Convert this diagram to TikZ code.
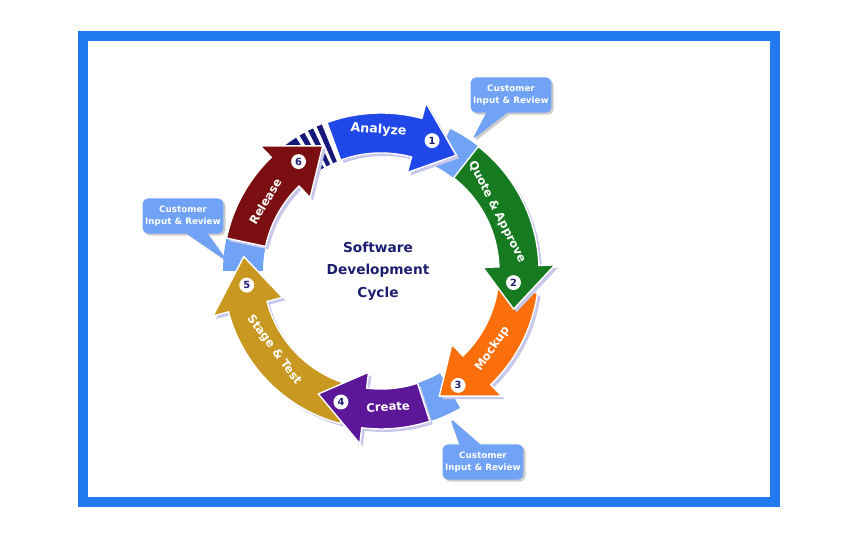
\documentclass[tikz,border=0pt]{standalone}
\usepackage{fontspec}
\setmainfont{DejaVu Sans}
\usetikzlibrary{shapes.callouts,shadows}

\definecolor{framebl}{RGB}{33,122,240}
\definecolor{analyzebl}{RGB}{32,72,232}
\definecolor{quotegr}{RGB}{22,122,32}
\definecolor{mockupor}{RGB}{250,110,12}
\definecolor{createpu}{RGB}{92,22,152}
\definecolor{stagego}{RGB}{200,152,32}
\definecolor{releasere}{RGB}{122,14,16}
\definecolor{stripenv}{RGB}{22,24,122}
\definecolor{gapbl}{RGB}{112,162,246}
\definecolor{titlenv}{RGB}{30,30,112}
\definecolor{shadelv}{RGB}{200,200,236}

% ring piece from angle #1 clockwise to #2
\newcommand{\ringpiece}[3]{%
  \fill[#3] (#1:158) arc[start angle=#1, end angle=#2, radius=158]
    -- (#2:118) arc[start angle=#2, end angle=#1, radius=118] -- cycle;
}
% curved arrow: start, head base, tip, colour
\newcommand{\cyclearrow}[4]{%
  \fill[shadelv, shift={(3,-3)}] (#1:158) arc[start angle=#1, end angle=#2, radius=158]
    -- (#2:174) -- (#3:138) -- (#2:102) -- (#2:118)
    arc[start angle=#2, end angle=#1, radius=118] -- cycle;
  \fill[#4, draw=white, line width=0.8pt] (#1:158) arc[start angle=#1, end angle=#2, radius=158]
    -- (#2:174) -- (#3:138) -- (#2:102) -- (#2:118)
    arc[start angle=#2, end angle=#1, radius=118] -- cycle;
}

\begin{document}
\begin{tikzpicture}[x=0.02cm, y=0.02cm,
    lbl/.style={text=white, font=\fontsize{6.6}{7}\selectfont\bfseries, inner sep=0pt},
    num/.style={circle, fill=white, text=titlenv, inner sep=0pt, minimum size=8.5pt,
      font=\fontsize{5.6}{6}\selectfont\bfseries},
    note/.style={rectangle callout, fill=gapbl, rounded corners=3pt, text=white,
      align=center, minimum width=46pt, minimum height=20pt, inner sep=1pt,
      callout pointer width=12pt, font=\fontsize{5}{6.8}\selectfont\bfseries,
      drop shadow={shadow xshift=1.2pt, shadow yshift=-1.2pt, fill=black, opacity=0.2}}]
  \useasboundingbox (0,0) rectangle (850,550);
  \draw[framebl, line width=5.67pt] (83,514) rectangle (775,48);

  % callouts
  \coordinate (p1) at (472,410);
  \coordinate (p2) at (228,288);
  \coordinate (p3) at (450,132);
  \node[note, callout absolute pointer={(p1)}] (c1) at (511,455) {Customer\\Input \& Review};
  \node[note, callout absolute pointer={(p2)}] (c2) at (183,334) {Customer\\Input \& Review};
  \node[note, callout absolute pointer={(p3)}] (c3) at (483,88) {Customer\\Input \& Review};

  \begin{scope}[shift={(381,279)}]
    % light blue gaps
    \ringpiece{64}{50}{gapbl}
    \ringpiece{-60}{-76}{gapbl}
    \ringpiece{180}{164}{gapbl}
    % stripes
    \ringpiece{132}{122.5}{stripenv}
    \ringpiece{121}{119}{stripenv}
    \ringpiece{117.5}{115.5}{stripenv}
    \ringpiece{114}{112}{stripenv}

    \cyclearrow{-105}{-165}{-186}{stagego}
    \cyclearrow{-8}{-46}{-65}{mockupor}
    \cyclearrow{110}{75}{57}{analyzebl}
    \cyclearrow{52}{2}{-16}{quotegr}
    \cyclearrow{-72}{-97}{-117}{createpu}
    \cyclearrow{168}{134}{115}{releasere}

    \node[lbl, font=\fontsize{7.2}{8}\selectfont\bfseries, rotate=-4] (tAnalyze) at (91:141) {Analyze};
    \node[lbl, rotate=-63] (tQuote) at (27:130) {Quote \& Approve};
    \node[lbl, rotate=55] (tMockup) at (-35:136) {Mockup};
    \node[lbl, rotate=3] (tCreate) at (-87:136) {Create};
    \node[lbl, rotate=-53.6] (tStage) at (-143.6:133) {Stage \& Test};
    \node[lbl, rotate=59] (tRelease) at (149:135) {Release};

    \node[num] (n1) at (68.6:140) {1};
    \node[num] (n2) at (-5:133) {2};
    \node[num] (n3) at (-56:138) {3};
    \node[num] (n4) at (-107:137) {4};
    \node[num] (n5) at (186:135) {5};
    \node[num] (n6) at (127:137) {6};

    \node[text=titlenv, align=center, font=\fontsize{7.8}{12.8}\selectfont\bfseries] (title) at (-3,0)
      {Software\\Development\\Cycle};
  \end{scope}
\end{tikzpicture}
\end{document}
